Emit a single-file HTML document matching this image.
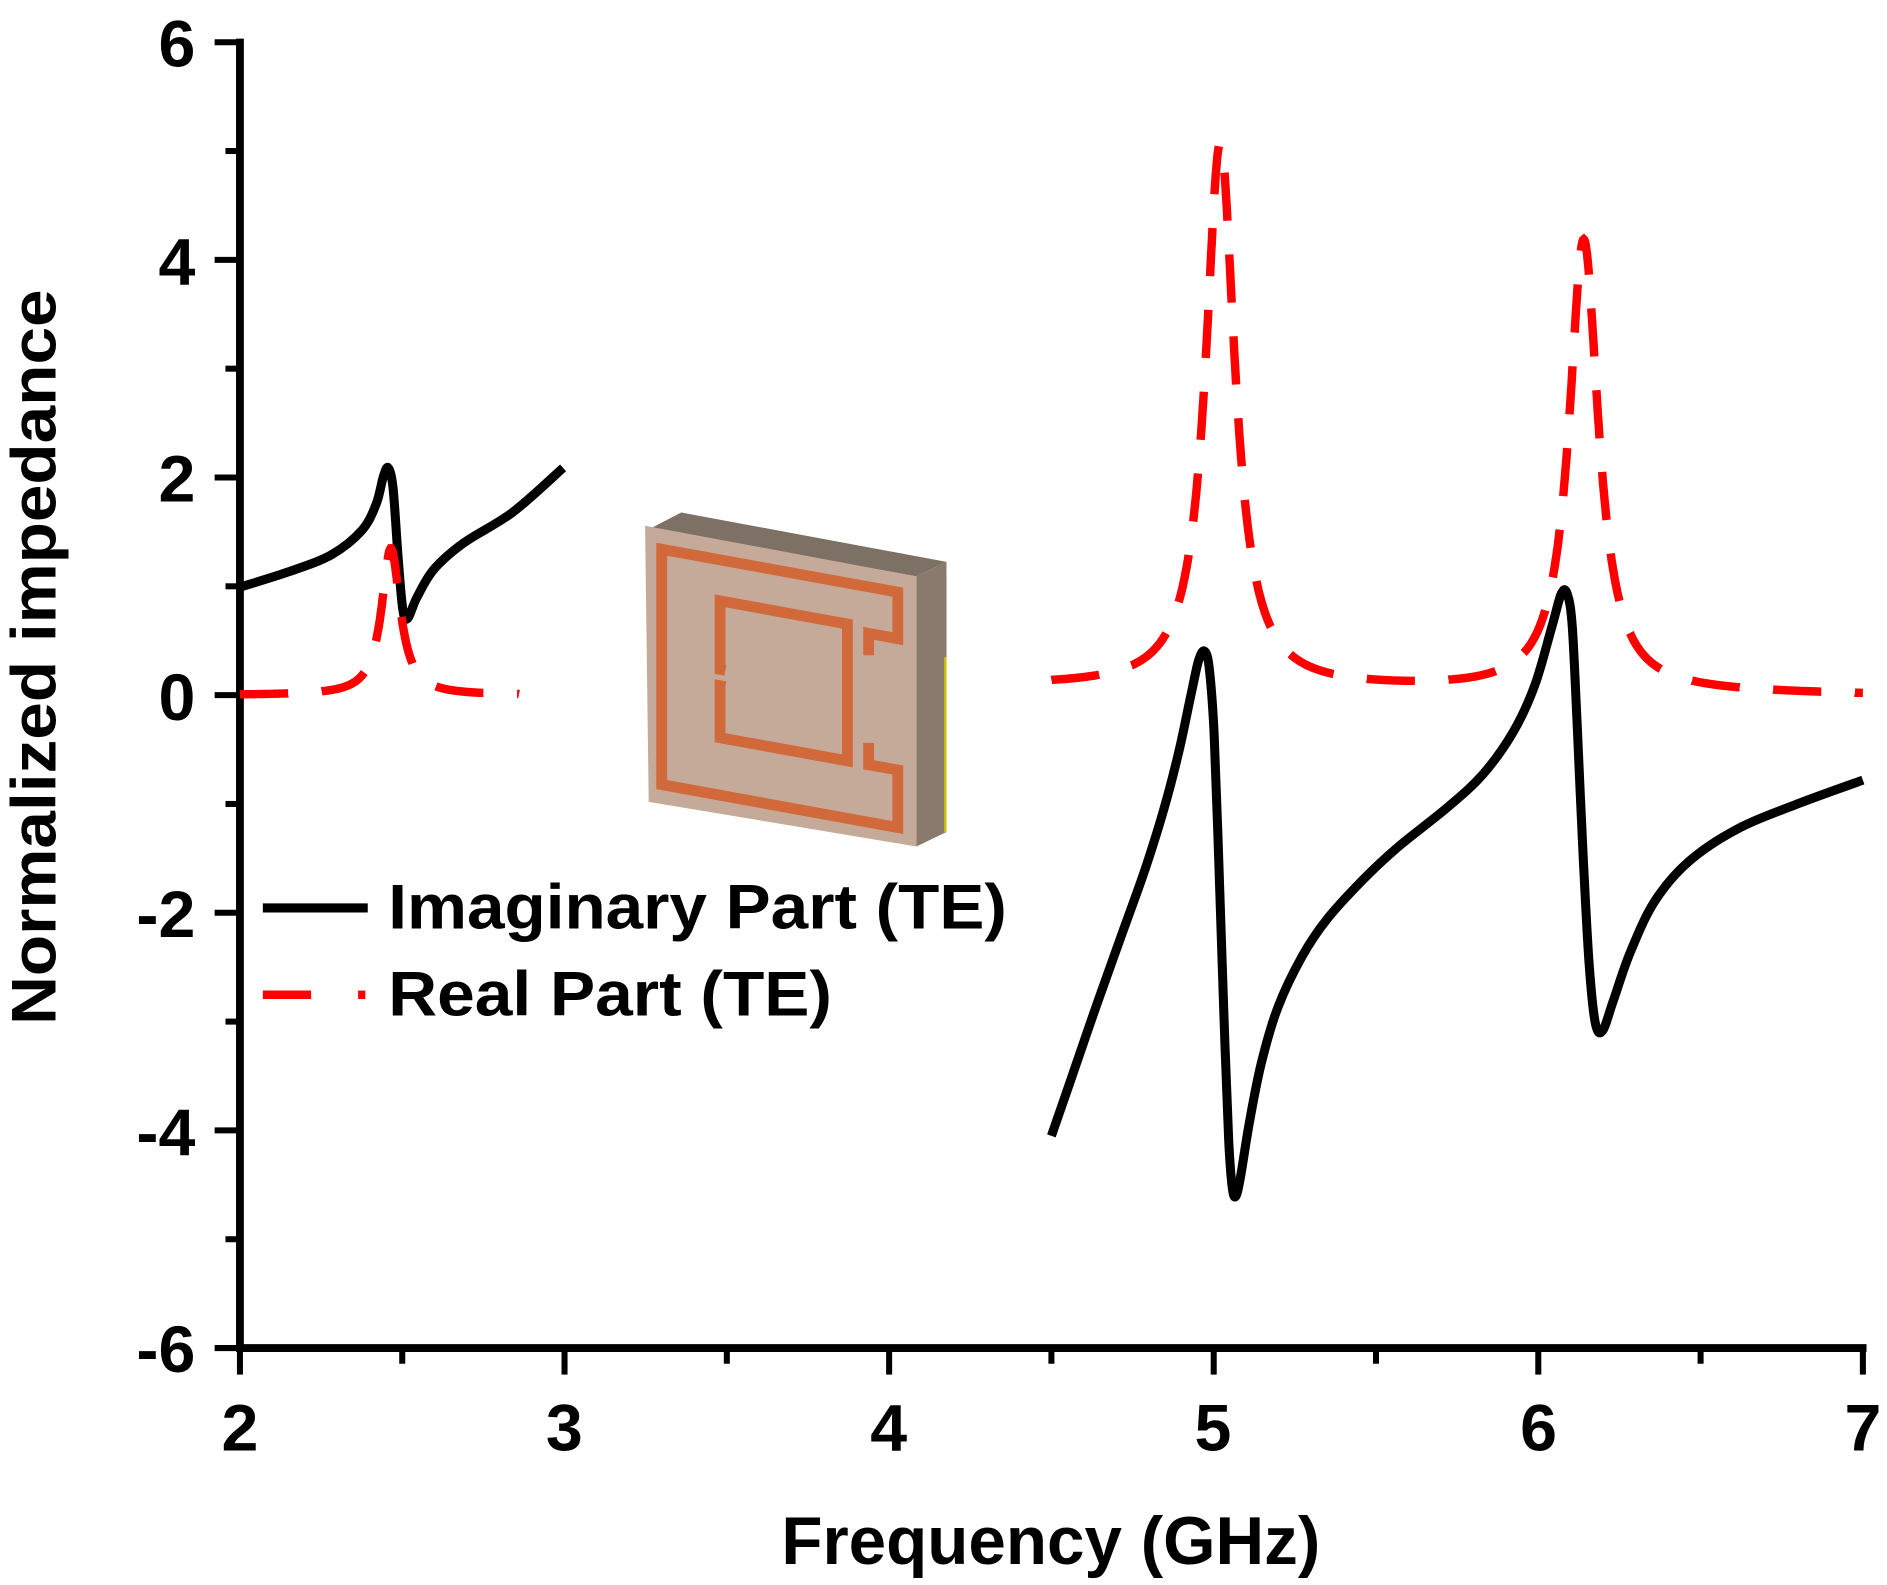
<!DOCTYPE html>
<html><head><meta charset="utf-8"><style>
html,body{margin:0;padding:0;background:#fff;}
svg{display:block;}
text{font-family:"Liberation Sans",Arial,sans-serif;font-weight:bold;fill:#000;}
</style></head><body>
<svg id="s" width="1887" height="1585" viewBox="0 0 1565 1314.5" preserveAspectRatio="none" xmlns="http://www.w3.org/2000/svg">
<g stroke="#000" stroke-width="6.5" fill="none">
<line x1="199" y1="32" x2="199" y2="1121"/>
<line x1="196" y1="1118" x2="1548" y2="1118"/>
</g>
<g id="ticks" stroke="#000" stroke-width="5"></g>
<g font-size="55" text-anchor="end">
<text x="162" y="55">6</text>
<text x="162" y="236">4</text>
<text x="162" y="416">2</text>
<text x="162" y="597">0</text>
<text x="162" y="777">-2</text>
<text x="162" y="958">-4</text>
<text x="162" y="1138">-6</text>
</g>
<g font-size="55" text-anchor="middle">
<text x="199" y="1203">2</text>
<text x="468" y="1203">3</text>
<text x="737" y="1203">4</text>
<text x="1006" y="1203">5</text>
<text x="1276" y="1203">6</text>
<text x="1545" y="1203">7</text>
</g>
<text x="648" y="1297" font-size="56" textLength="447" lengthAdjust="spacingAndGlyphs">Frequency (GHz)</text>
<text transform="translate(46,850) rotate(-90)" font-size="52" textLength="610" lengthAdjust="spacingAndGlyphs">Normalized impedance</text>

<g>
<polygon points="540,438 565,425 785,466 760,478" fill="#7d7065"/>
<polygon points="760,478 785,466 785,690 760,702" fill="#8a7a6e"/>
<polygon points="535,436 760,478 760,702 538,665" fill="#c5aa9a"/>
<line x1="784" y1="545" x2="784" y2="690" stroke="#c8c000" stroke-width="2"/>
<g id="srr" fill="none" stroke="#d2693a" stroke-width="9"></g>
</g>

<g id="curves" fill="none"></g>

<line x1="218" y1="753" x2="305" y2="753" stroke="#000" stroke-width="7.5"/>
<line x1="218" y1="825" x2="258" y2="825" stroke="#f00" stroke-width="7"/>
<line x1="297" y1="825" x2="303" y2="825" stroke="#f00" stroke-width="7"/>
<text x="322" y="770" font-size="52" textLength="513" lengthAdjust="spacingAndGlyphs">Imaginary Part (TE)</text>
<text x="322" y="842" font-size="52" textLength="368" lengthAdjust="spacingAndGlyphs">Real Part (TE)</text>
</svg>
<script>
var NS="http://www.w3.org/2000/svg";
function el(p,t,a){var e=document.createElementNS(NS,t);for(var k in a)e.setAttribute(k,a[k]);p.appendChild(e);return e;}
var X=function(f){return 199+(f-2)*269.2;}, Y=function(v){return 576.5-v*90.25;};
var tk=document.getElementById('ticks');
for(var v=-6;v<=6;v++){var y=Y(v);el(tk,'line',{x1:v%2==0?178:187,y1:y,x2:199,y2:y});}
for(var f=2;f<=7.01;f+=0.5){var x=X(f);el(tk,'line',{x1:x,y1:1118,x2:x,y2:(Math.abs(f-Math.round(f))<0.01)?1140:1131});}
var g=document.getElementById('srr');
function P(u,v){return (540+220*u).toFixed(1)+","+(438+40*u+227*v).toFixed(1);}
function pl(arr){el(g,'polyline',{points:arr.map(function(a){return P(a[0],a[1]);}).join(' ')});}
pl([[0.82,0.32],[0.82,0.24],[0.93,0.24],[0.93,0.07],[0.04,0.07],[0.04,0.93],[0.93,0.93],[0.93,0.72],[0.82,0.72],[0.82,0.64]]);
pl([[0.28,0.47],[0.26,0.47],[0.26,0.22],[0.74,0.22],[0.74,0.72],[0.26,0.72],[0.26,0.53],[0.28,0.53]]);
var c=document.getElementById('curves');
function smooth(pts){var d="M"+pts[0][0]+","+pts[0][1];for(var i=0;i<pts.length-1;i++){var p0=pts[i-1]||pts[i],p1=pts[i],p2=pts[i+1],p3=pts[i+2]||p2;
d+=" C"+(p1[0]+(p2[0]-p0[0])/6).toFixed(1)+","+(p1[1]+(p2[1]-p0[1])/6).toFixed(1)+" "+(p2[0]-(p3[0]-p1[0])/6).toFixed(1)+","+(p2[1]-(p3[1]-p1[1])/6).toFixed(1)+" "+p2[0]+","+p2[1];}return d;}
var im1=[[199,487],[240,474],[275,460],[300,440],[312,418],[318,395],[322,388],[326,405],[330,460],[334,505],[338,513],[346,495],[360,472],[385,450],[425,425],[467,388]];
var im2=[[872,942],[890,890],[910,832],[930,776],[950,720],[965,672],[978,622],[988,575],[994,548],[999,540],[1003,555],[1007,610],[1011,720],[1015,840],[1019,945],[1022,985],[1025,992],[1029,975],[1036,932],[1046,882],[1060,835],[1080,793],[1100,763],[1130,730],[1160,702],[1200,670],[1230,642],[1255,607],[1273,568],[1287,520],[1295,492],[1300,493],[1304,520],[1308,600],[1313,710],[1318,800],[1323,848],[1329,855],[1338,830],[1352,790],[1372,748],[1400,715],[1440,688],[1490,667],[1545,647]];
[im1,im2].forEach(function(p){el(c,'path',{d:smooth(p),stroke:"#000","stroke-width":7.5,"stroke-linejoin":"round"});});
function re1(f){return 1.35/(1+Math.pow((f-2.465)/0.035,2));}
function re2(f){return 0.08+5.0/(1+Math.pow((f-5.02)/0.055,2))+4.15/(1+Math.pow((f-6.14)/0.055,2))-0.08*(f-4.5)/2.5;}
function rp(fn,a,b){var d="";for(var f=a;f<=b+1e-9;f+=0.002){d+=(d?"L":"M")+X(f).toFixed(1)+","+Y(fn(f)).toFixed(1);}return d;}
el(c,'path',{d:rp(re1,2.0,2.86),stroke:"#f00","stroke-width":7,"stroke-dasharray":"40 28"});
el(c,'path',{d:rp(re2,4.5,7.0),stroke:"#f00","stroke-width":7,"stroke-dasharray":"40 28"});
</script>
</body></html>
